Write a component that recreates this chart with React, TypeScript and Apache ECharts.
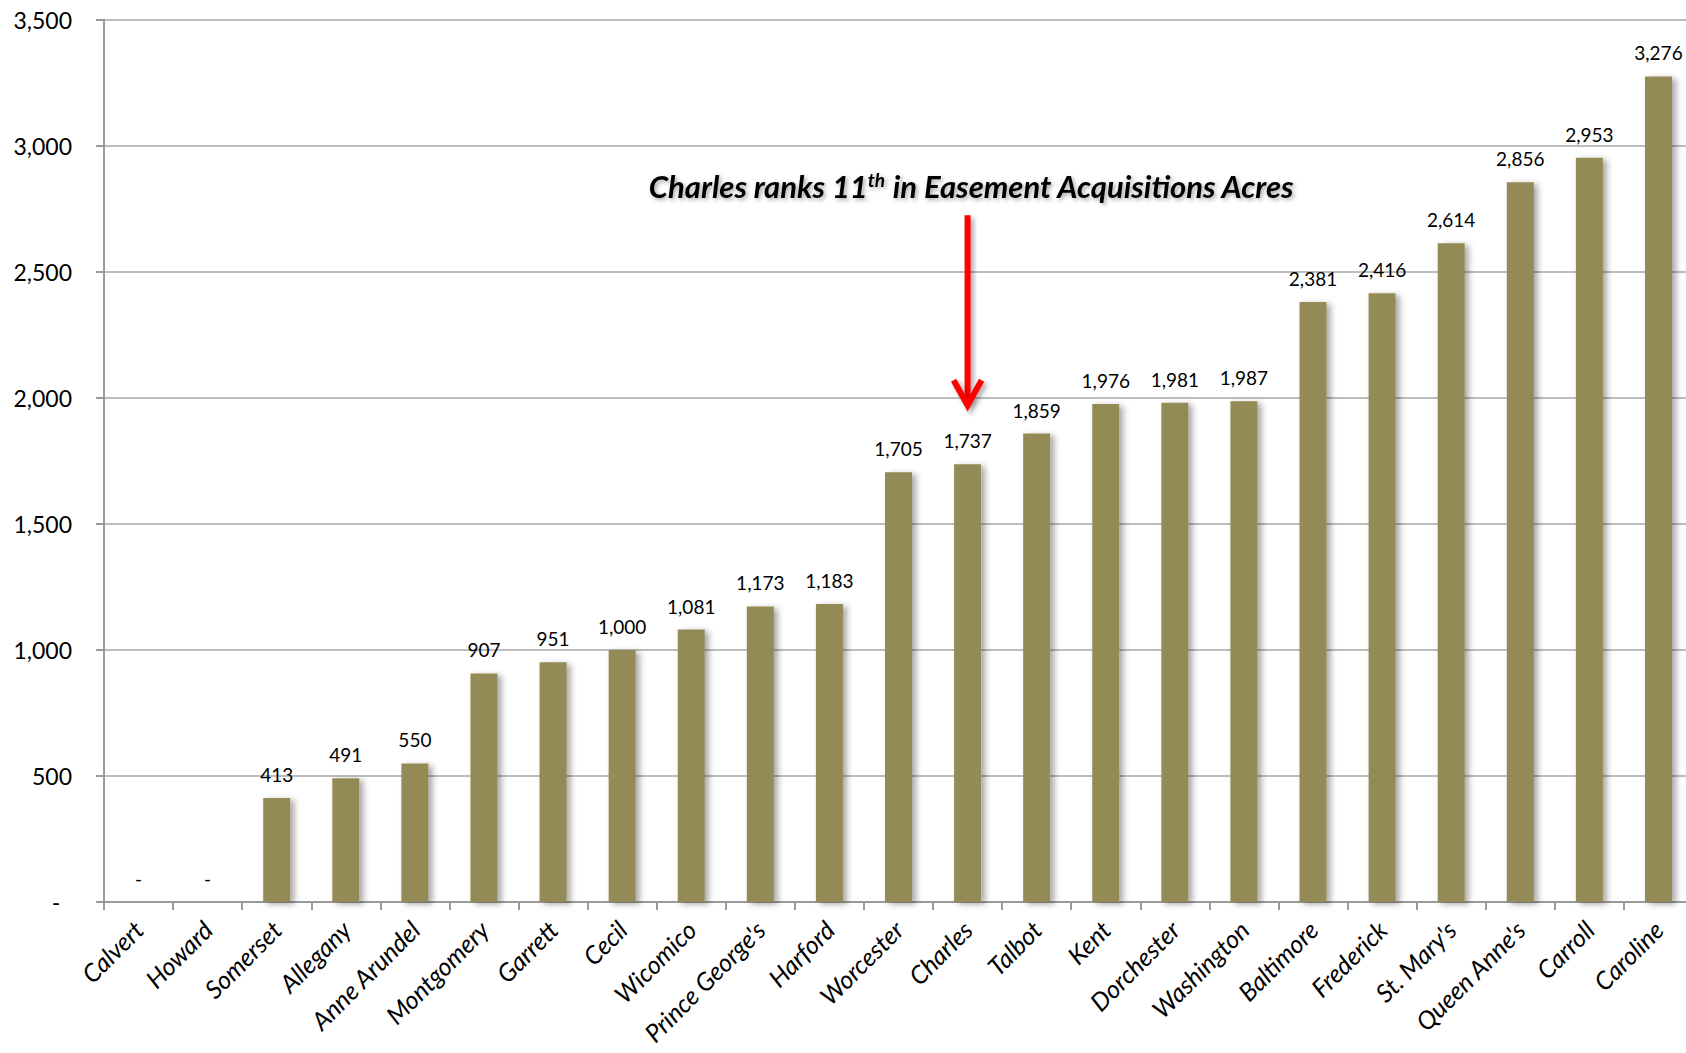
import React, { useEffect, useRef } from "react";
import * as echarts from "echarts";

const counties = [
  "Calvert", "Howard", "Somerset", "Allegany", "Anne Arundel", "Montgomery",
  "Garrett", "Cecil", "Wicomico", "Prince George's", "Harford", "Worcester",
  "Charles", "Talbot", "Kent", "Dorchester", "Washington", "Baltimore",
  "Frederick", "St. Mary's", "Queen Anne's", "Carroll", "Caroline",
];
const acres = [
  0, 0, 413, 491, 550, 907, 951, 1000, 1081, 1173, 1183, 1705, 1737, 1859,
  1976, 1981, 1987, 2381, 2416, 2614, 2856, 2953, 3276,
];
const yTicks = [0, 500, 1000, 1500, 2000, 2500, 3000, 3500];
const highlightCounty = "Charles";
const arrowTopValue = 2725;
const arrowTipValue = 1971;
const noteValue = 2840;

const fmt = (v: number) => (v === 0 ? "-" : v.toLocaleString("en-US"));

export default function App() {
  const ref = useRef<HTMLDivElement>(null);
  useEffect(() => {
    if (!ref.current) return;
    const chart = echarts.init(ref.current, null, { renderer: "svg" });
    chart.setOption({
      animation: false,
      backgroundColor: "#ffffff",
      grid: { left: 104, top: 20, width: 1589, height: 882, outerBoundsMode: "none", containLabel: false },
      xAxis: {
        type: "category",
        data: counties,
        boundaryGap: true,
        axisLine: { lineStyle: { color: "#9a9a9a", width: 2 } },
        axisTick: { show: true, length: 8, lineStyle: { color: "#9a9a9a", width: 2 } },
        axisLabel: {
          interval: 0,
          rotate: 45,
          margin: 23,
          fontStyle: "italic",
          fontFamily: "Lato",
          fontSize: 25,
          color: "#000",
        },
      },
      yAxis: {
        type: "value",
        min: yTicks[0],
        max: yTicks[yTicks.length - 1],
        interval: yTicks[1] - yTicks[0],
        axisLine: { show: true, lineStyle: { color: "#9a9a9a", width: 2 } },
        axisTick: { show: true, inside: false, length: 8, lineStyle: { color: "#9a9a9a", width: 2 } },
        splitLine: { lineStyle: { color: "#bdbdbd", width: 2 } },
        axisLabel: {
          margin: 32,
          fontFamily: "Lato",
          fontSize: 23,
          color: "#000",
          formatter: (v: number) => (v === 0 ? "-  " : v.toLocaleString("en-US")),
        },
      },
      series: [
        {
          type: "bar",
          data: acres,
          barWidth: 27,
          itemStyle: {
            color: "#948a54",
            shadowColor: "rgba(0,0,0,0.35)",
            shadowBlur: 6,
            shadowOffsetX: 4,
            shadowOffsetY: 2,
          },
          label: {
            show: true,
            position: "top",
            distance: 14,
            fontFamily: "Lato",
            fontSize: 19,
            color: "#000",
            formatter: (p: any) => fmt(p.value),
          },
        },
      ],
    });

    const cx = chart.convertToPixel({ xAxisIndex: 0 }, highlightCounty) as number;
    const yTop = chart.convertToPixel({ yAxisIndex: 0 }, arrowTopValue) as number;
    const yTip = chart.convertToPixel({ yAxisIndex: 0 }, arrowTipValue) as number;
    const yNote = chart.convertToPixel({ yAxisIndex: 0 }, noteValue) as number;
    const arrowShadow = {
      shadowColor: "rgba(0,0,0,0.35)",
      shadowBlur: 5,
      shadowOffsetX: 3,
      shadowOffsetY: 3,
    };
    chart.setOption({
      graphic: [
        {
          type: "rect",
          shape: { x: cx - 3, y: yTop, width: 6, height: yTip - yTop - 4 },
          style: { fill: "#ff0000", ...arrowShadow },
          z: 100,
        },
        {
          type: "polyline",
          shape: { points: [[cx - 14, yTip - 25], [cx, yTip], [cx + 14, yTip - 25]] },
          style: { stroke: "#ff0000", lineWidth: 6, fill: null, lineJoin: "miter", ...arrowShadow },
          z: 100,
        },
        {
          type: "text",
          x: cx + 4,
          y: yNote,
          z: 100,
          style: {
            text: "Charles ranks 11{sup|th} in Easement Acquisitions Acres",
            fontFamily: "Lato",
            fontSize: 31,
            fontWeight: "bold",
            fontStyle: "italic",
            fill: "#000",
            align: "center",
            verticalAlign: "middle",
            textShadowColor: "rgba(0,0,0,0.35)",
            textShadowBlur: 4,
            textShadowOffsetX: 2,
            textShadowOffsetY: 2,
            rich: {
              sup: {
                fontFamily: "Lato",
                fontSize: 19,
                fontWeight: "bold",
                fontStyle: "italic",
                fill: "#000",
                verticalAlign: "top",
                padding: [0, 0, 13, 0],
                textShadowColor: "rgba(0,0,0,0.35)",
                textShadowBlur: 4,
                textShadowOffsetX: 2,
                textShadowOffsetY: 2,
              },
            },
          },
        },
      ],
    });
    return () => chart.dispose();
  }, []);
  return (
    <div
      ref={ref}
      style={{ position: "fixed", left: 0, top: 0, width: 1686, height: 1053, background: "#fff" }}
    />
  );
}
